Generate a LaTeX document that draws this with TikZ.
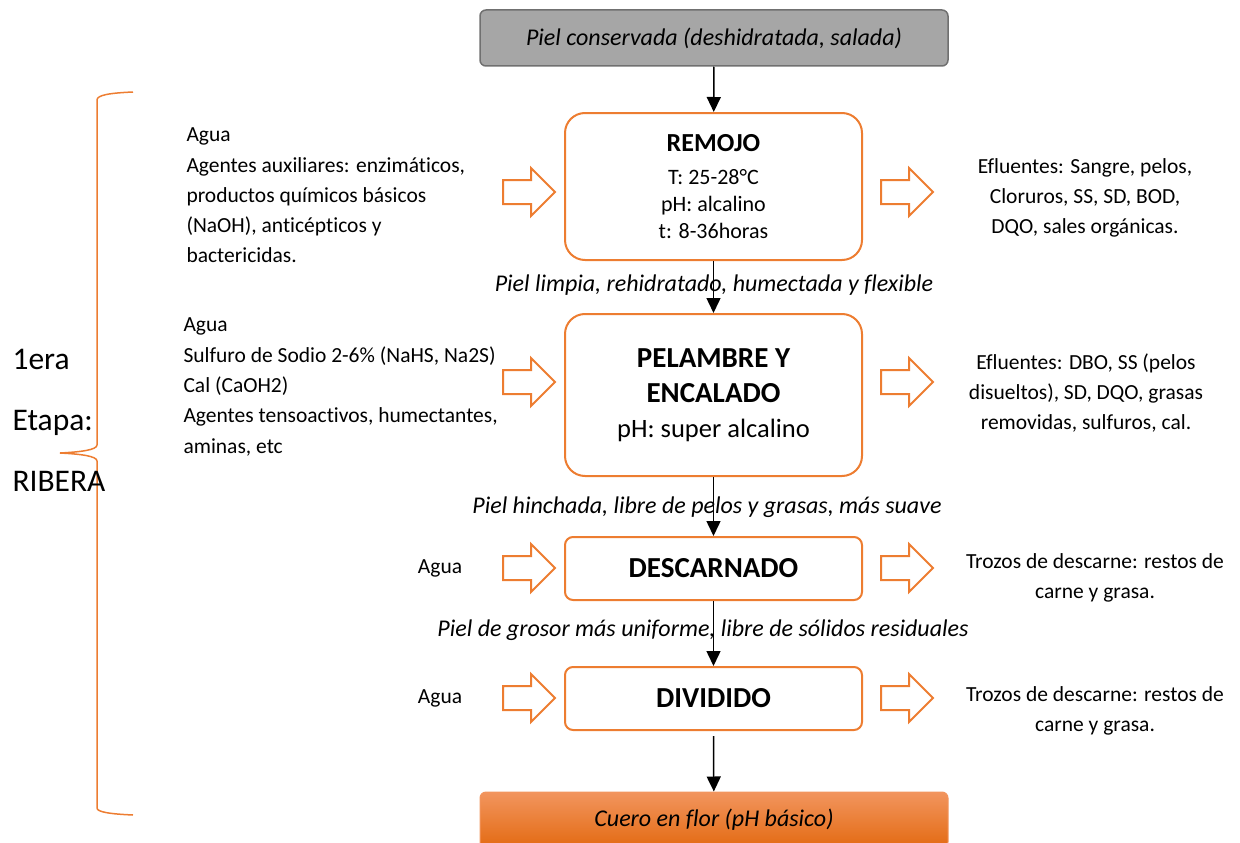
\documentclass[tikz,border=0pt]{standalone}
\usepackage{fontspec}
\setmainfont[Ligatures=NoCommon]{Carlito}
\usetikzlibrary{shapes.arrows,arrows.meta}
\definecolor{naranja}{HTML}{ED7D31}
\definecolor{naranjaclaro}{HTML}{F2955E}
\definecolor{naranjaoscuro}{HTML}{E36A12}
\definecolor{gris}{HTML}{A6A6A6}
\definecolor{grisoscuro}{HTML}{707070}
\tikzset{
  etapa/.style={draw=naranja,line width=2pt,rounded corners=20pt,fill=white,
    minimum width=297pt,align=center},
  extremo/.style={rounded corners=6pt,minimum width=468pt,minimum height=56pt,
    font=\fontsize{24}{28}\selectfont\itshape},
  entra/.style={single arrow,draw=naranja,line width=2pt,fill=white,
    single arrow head extend=12pt,minimum height=52pt,inner xsep=0pt,inner ysep=11pt,
    text height=0pt,text depth=0pt},
  texto/.style={font=\fontsize{21.5}{30.3}\selectfont},
  rotulo/.style={font=\fontsize{24}{28}\selectfont\itshape},
  flecha/.style={line width=1.5pt,-{Triangle[length=15pt,width=14pt]}}
}
\begin{document}
\begin{tikzpicture}[x=1pt,y=-1pt]
\useasboundingbox (0,0) rectangle (1240,843);
% etapas
\node[extremo,fill=gris,draw=grisoscuro,line width=1.5pt] (inicio) at (714,38) {Piel conservada (deshidratada, salada)};
\node[etapa,minimum height=147pt,font=\fontsize{22}{27}\selectfont] (remojo) at (713.5,186.5)
  {{\fontsize{26}{27}\selectfont\bfseries REMOJO}\\[6pt]T: 25-28°C\\pH: alcalino\\t: 8-36horas};
\node[etapa,minimum height=162pt,font=\fontsize{26.5}{35}\selectfont] (pelambre) at (713.5,395)
  {{\fontsize{29}{35}\selectfont\bfseries PELAMBRE Y}\\{\fontsize{29}{35}\selectfont\bfseries ENCALADO}\\pH: super alcalino};
\node[etapa,rounded corners=8pt,minimum height=63pt,font=\fontsize{29}{32}\selectfont\bfseries] (descarnado) at (713.5,568.5) {DESCARNADO};
\node[etapa,rounded corners=8pt,minimum height=63pt,font=\fontsize{29}{32}\selectfont\bfseries] (dividido) at (713.5,698.5) {DIVIDIDO};
\node[extremo,top color=naranjaclaro,bottom color=naranjaoscuro,draw=naranjaclaro,line width=1pt] (fin) at (714,820) {Cuero en flor (pH básico)};
% flujo
\coordinate (salida) at ([yshift=-5pt]dividido.south);
\draw[flecha] (inicio) -- (remojo);
\draw[flecha] (remojo) -- (pelambre);
\draw[flecha] (pelambre) -- (descarnado);
\draw[flecha] (descarnado) -- (dividido);
\draw[flecha] (salida) -- (fin);
\node[rotulo] (r1) at (714,285) {Piel limpia, rehidratado, humectada y flexible};
\node[rotulo] (r2) at (707,507) {Piel hinchada, libre de pelos y grasas, más suave};
\node[rotulo] (r3) at (703,630) {Piel de grosor más uniforme, libre de sólidos residuales};
% entradas
\node[entra] (e1) at (523,192) {};
\node[entra] (e2) at (523,382) {};
\node[entra] (e3) at (523,568) {};
\node[entra] (e4) at (523,698) {};
\node[entra] (s1) at (901,192) {};
\node[entra] (s2) at (901,382) {};
\node[entra] (s3) at (901,568) {};
\node[entra] (s4) at (901,698) {};
\node[texto,align=left,anchor=west] (a1) at (183,195.5) {Agua\\Agentes auxiliares: enzimáticos,\\productos químicos básicos\\(NaOH), anticépticos y\\bactericidas.};
\node[texto,align=left,anchor=west] (a2) at (180,387) {Agua\\Sulfuro de Sodio 2-6\% (NaHS, Na2S)\\Cal (CaOH2)\\Agentes tensoactivos, humectantes,\\aminas, etc};
\node[texto] (a3) at (440,568) {Agua};
\node[texto] (a4) at (440,698) {Agua};
\node[texto,align=center] (b1) at (1085,198) {Efluentes: Sangre, pelos,\\Cloruros, SS, SD, BOD,\\DQO, sales orgánicas.};
\node[texto,align=center] (b2) at (1086,393) {Efluentes: DBO, SS (pelos\\disueltos), SD, DQO, grasas\\removidas, sulfuros, cal.};
\node[texto,align=center] (b3) at (1095,578) {Trozos de descarne: restos de\\carne y grasa.};
\node[texto,align=center] (b4) at (1095,711) {Trozos de descarne: restos de\\carne y grasa.};
% llave
\draw[naranja,line width=1.5pt] (133,92) .. controls (110,93) and (97,95) .. (97,100) -- (97,445)
  .. controls (97,450) and (80,452) .. (60,453) .. controls (80,454) and (97,456) .. (97,461)
  -- (97,808) .. controls (97,812) and (110,814) .. (133,815);
\node[font=\fontsize{31.5}{61}\selectfont,align=left,anchor=west] (ribera) at (9,420) {1era\\Etapa:\\RIBERA};
\end{tikzpicture}
\end{document}
